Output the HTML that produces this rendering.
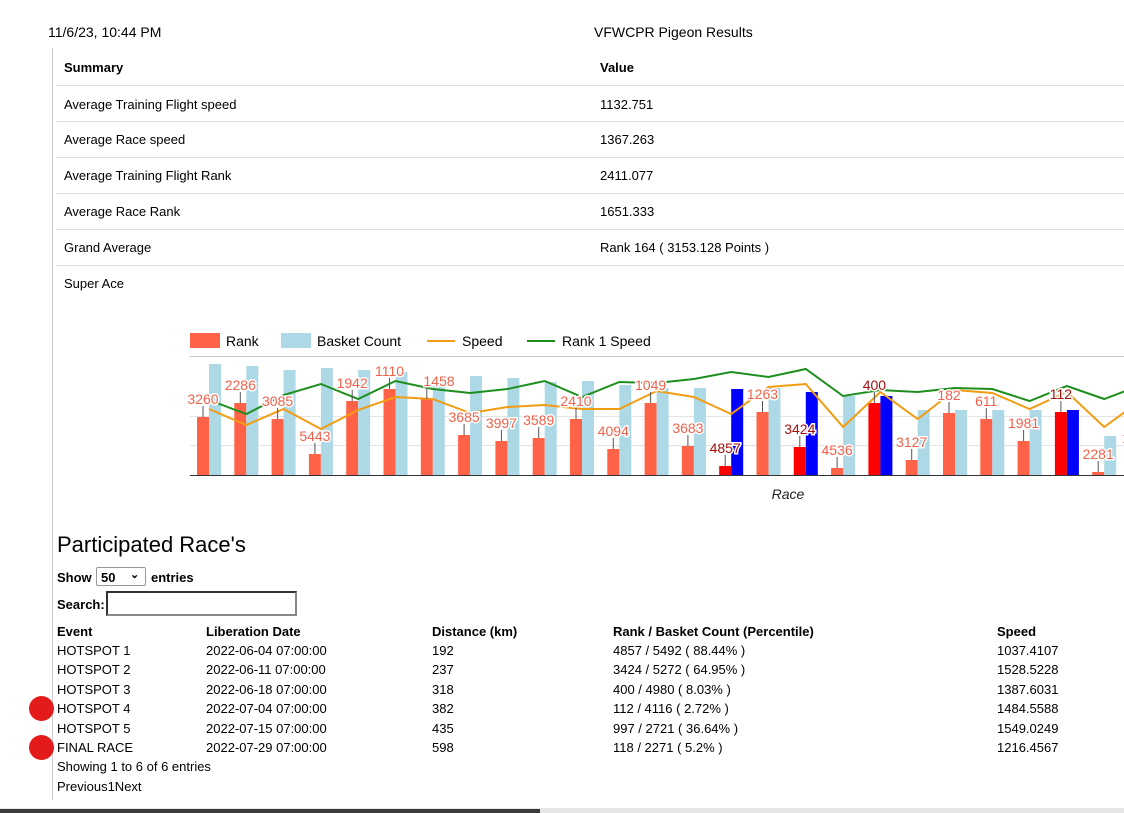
<!DOCTYPE html>
<html><head><meta charset="utf-8"><style>
*{margin:0;padding:0;box-sizing:border-box}
body{width:1124px;height:813px;background:#fff;font-family:"Liberation Sans",Arial,sans-serif;color:#000;position:relative;overflow:hidden;font-size:13px}
.a{position:absolute;white-space:nowrap}
.row{position:absolute;left:56px;width:1068px;border-bottom:1px solid #ddd}
.lbl text{font-size:14px;fill:#f0624b;stroke:#fff;stroke-width:3px;paint-order:stroke;text-anchor:middle}
.lbl text.d{fill:#a50f0f}
</style></head><body>
<div class="a" style="left:48px;top:24px;font-size:14px">11/6/23, 10:44 PM</div>
<div class="a" style="left:594px;top:24px;font-size:14px">VFWCPR Pigeon Results</div>
<div class="a" style="left:52px;top:48px;width:1px;height:752px;background:#ccc"></div>

<div class="row" style="top:50px;height:36px"></div>
<div class="a" style="left:64px;top:60px;font-weight:bold">Summary</div>
<div class="a" style="left:600px;top:60px;font-weight:bold">Value</div>
<div class="row" style="top:86px;height:36px"></div>
<div class="a" style="left:64px;top:97px">Average Training Flight speed</div><div class="a" style="left:600px;top:97px">1132.751</div>
<div class="row" style="top:122px;height:36px"></div>
<div class="a" style="left:64px;top:132px">Average Race speed</div><div class="a" style="left:600px;top:132px">1367.263</div>
<div class="row" style="top:158px;height:36px"></div>
<div class="a" style="left:64px;top:168px">Average Training Flight Rank</div><div class="a" style="left:600px;top:168px">2411.077</div>
<div class="row" style="top:194px;height:36px"></div>
<div class="a" style="left:64px;top:204px">Average Race Rank</div><div class="a" style="left:600px;top:204px">1651.333</div>
<div class="row" style="top:230px;height:36px"></div>
<div class="a" style="left:64px;top:240px">Grand Average</div><div class="a" style="left:600px;top:240px">Rank 164 ( 3153.128 Points )</div>
<div class="a" style="left:64px;top:276px">Super Ace</div>

<svg class="a" style="left:0;top:0" width="1124" height="520">
<rect x="190" y="333" width="30" height="15" fill="#ff6347"/><text x="226" y="346" font-size="14">Rank</text>
<rect x="281" y="333" width="30" height="15" fill="#add8e6"/><text x="317" y="346" font-size="14">Basket Count</text>
<line x1="427" y1="341" x2="455" y2="341" stroke="#f39c12" stroke-width="2"/><text x="462" y="346" font-size="14">Speed</text>
<line x1="527" y1="341" x2="555" y2="341" stroke="#1e8f1e" stroke-width="2"/><text x="562" y="346" font-size="14">Rank 1 Speed</text>
<g stroke="#ccc" stroke-width="1"><line x1="190" y1="356.5" x2="1124" y2="356.5"/><line x1="190" y1="416.5" x2="1124" y2="416.5" stroke="#e4e4e4"/><line x1="190" y1="445.5" x2="1124" y2="445.5" stroke="#e4e4e4"/></g>
<g>
<rect x="197" y="417" width="12" height="58" fill="#ff6347"/><rect x="209" y="364" width="12" height="111" fill="#add8e6"/>
<rect x="234.3" y="403" width="12" height="72" fill="#ff6347"/><rect x="246.3" y="366" width="12" height="109" fill="#add8e6"/>
<rect x="271.6" y="419" width="12" height="56" fill="#ff6347"/><rect x="283.6" y="370" width="12" height="105" fill="#add8e6"/>
<rect x="308.9" y="454" width="12" height="21" fill="#ff6347"/><rect x="320.9" y="368" width="12" height="107" fill="#add8e6"/>
<rect x="346.2" y="401" width="12" height="74" fill="#ff6347"/><rect x="358.2" y="370" width="12" height="105" fill="#add8e6"/>
<rect x="383.5" y="389" width="12" height="86" fill="#ff6347"/><rect x="395.5" y="372" width="12" height="103" fill="#add8e6"/>
<rect x="420.8" y="399" width="12" height="76" fill="#ff6347"/><rect x="432.8" y="377" width="12" height="98" fill="#add8e6"/>
<rect x="458.1" y="435" width="12" height="40" fill="#ff6347"/><rect x="470.1" y="376" width="12" height="99" fill="#add8e6"/>
<rect x="495.4" y="441" width="12" height="34" fill="#ff6347"/><rect x="507.4" y="378" width="12" height="97" fill="#add8e6"/>
<rect x="532.7" y="438" width="12" height="37" fill="#ff6347"/><rect x="544.7" y="382" width="12" height="93" fill="#add8e6"/>
<rect x="570" y="419" width="12" height="56" fill="#ff6347"/><rect x="582" y="381" width="12" height="94" fill="#add8e6"/>
<rect x="607.3" y="449" width="12" height="26" fill="#ff6347"/><rect x="619.3" y="385" width="12" height="90" fill="#add8e6"/>
<rect x="644.6" y="403" width="12" height="72" fill="#ff6347"/><rect x="656.6" y="388" width="12" height="87" fill="#add8e6"/>
<rect x="681.9" y="446" width="12" height="29" fill="#ff6347"/><rect x="693.9" y="388" width="12" height="87" fill="#add8e6"/>
<rect x="719.2" y="466" width="12" height="9" fill="#ff0000"/><rect x="731.2" y="389" width="12" height="86" fill="#0000ff"/>
<rect x="756.5" y="412" width="12" height="63" fill="#ff6347"/><rect x="768.5" y="388" width="12" height="87" fill="#add8e6"/>
<rect x="793.8" y="447" width="12" height="28" fill="#ff0000"/><rect x="805.8" y="392" width="12" height="83" fill="#0000ff"/>
<rect x="831.1" y="468" width="12" height="7" fill="#ff6347"/><rect x="843.1" y="396" width="12" height="79" fill="#add8e6"/>
<rect x="868.4" y="403" width="12" height="72" fill="#ff0000"/><rect x="880.4" y="396" width="12" height="79" fill="#0000ff"/>
<rect x="905.7" y="460" width="12" height="15" fill="#ff6347"/><rect x="917.7" y="410" width="12" height="65" fill="#add8e6"/>
<rect x="943" y="413" width="12" height="62" fill="#ff6347"/><rect x="955" y="410" width="12" height="65" fill="#add8e6"/>
<rect x="980.3" y="419" width="12" height="56" fill="#ff6347"/><rect x="992.3" y="410" width="12" height="65" fill="#add8e6"/>
<rect x="1017.6" y="441" width="12" height="34" fill="#ff6347"/><rect x="1029.6" y="410" width="12" height="65" fill="#add8e6"/>
<rect x="1054.9" y="412" width="12" height="63" fill="#ff0000"/><rect x="1066.9" y="410" width="12" height="65" fill="#0000ff"/>
<rect x="1092.2" y="472" width="12" height="3" fill="#ff6347"/><rect x="1104.2" y="436" width="12" height="39" fill="#add8e6"/>
</g>
<line x1="190" y1="475.5" x2="1124" y2="475.5" stroke="#333" stroke-width="1"/>
<polyline fill="none" stroke="#f39c12" stroke-width="2" points="209,409 246.3,425 283.6,409 320.9,429 358.2,410 395.5,397 432.8,399 470.1,413 507.4,407 544.7,405 582,409 619.3,409 656.6,391 693.9,397 731.2,414 768.5,387 805.8,384 843.1,427 880.4,392 917.7,419 955,390 992.3,393 1029.6,409 1066.9,392 1104.2,427 1141.5,400"/>
<polyline fill="none" stroke="#1e8f1e" stroke-width="2" points="209,400 246.3,414 283.6,395 320.9,384 358.2,399 395.5,381 432.8,389 470.1,393 507.4,389 544.7,381 582,397 619.3,382 656.6,383 693.9,379 731.2,372 768.5,377 805.8,369 843.1,396 880.4,390 917.7,392 955,388 992.3,389 1029.6,401 1066.9,386 1104.2,399 1141.5,385"/>
<g stroke="#555" stroke-width="1">
<line x1="203" y1="417" x2="203" y2="406"/><line x1="240.3" y1="403" x2="240.3" y2="392"/><line x1="277.6" y1="419" x2="277.6" y2="408"/><line x1="314.9" y1="454" x2="314.9" y2="443"/><line x1="352.2" y1="401" x2="352.2" y2="390"/><line x1="389.5" y1="389" x2="389.5" y2="378"/><line x1="426.8" y1="399" x2="426.8" y2="388"/><line x1="464.1" y1="435" x2="464.1" y2="424"/><line x1="501.4" y1="441" x2="501.4" y2="430"/><line x1="538.7" y1="438" x2="538.7" y2="427"/><line x1="576" y1="419" x2="576" y2="408"/><line x1="613.3" y1="449" x2="613.3" y2="438"/><line x1="650.6" y1="403" x2="650.6" y2="392"/><line x1="687.9" y1="446" x2="687.9" y2="435"/><line x1="725.2" y1="466" x2="725.2" y2="455"/><line x1="762.5" y1="412" x2="762.5" y2="401"/><line x1="799.8" y1="447" x2="799.8" y2="436"/><line x1="837.1" y1="468" x2="837.1" y2="457"/><line x1="874.4" y1="403" x2="874.4" y2="392"/><line x1="911.7" y1="460" x2="911.7" y2="449"/><line x1="949" y1="413" x2="949" y2="402"/><line x1="986.3" y1="419" x2="986.3" y2="408"/><line x1="1023.6" y1="441" x2="1023.6" y2="430"/><line x1="1060.9" y1="412" x2="1060.9" y2="401"/><line x1="1098.2" y1="472" x2="1098.2" y2="461"/>
</g>
<g class="lbl">
<text x="203" y="404">3260</text><text x="240.3" y="390">2286</text><text x="277.6" y="406">3085</text><text x="314.9" y="441">5443</text><text x="352.2" y="388">1942</text><text x="389.5" y="376">1110</text><text x="439" y="386">1458</text><text x="464.1" y="422">3685</text><text x="501.4" y="428">3997</text><text x="538.7" y="425">3589</text><text x="576" y="406">2410</text><text x="613.3" y="436">4094</text><text x="650.6" y="390">1049</text><text x="687.9" y="433">3683</text><text class="d" x="725.2" y="453">4857</text><text x="762.5" y="399">1263</text><text class="d" x="799.8" y="434">3424</text><text x="837.1" y="455">4536</text><text class="d" x="874.4" y="390">400</text><text x="911.7" y="447">3127</text><text x="949" y="400">182</text><text x="986.3" y="406">611</text><text x="1023.6" y="428">1981</text><text class="d" x="1060.9" y="399">112</text><text x="1098.2" y="459">2281</text><text x="1126" y="443">1</text>
</g>
<text x="788" y="499" font-size="14" font-style="italic" text-anchor="middle" fill="#222">Race</text>
</svg>

<div class="a" style="left:57px;top:532px;font-size:22px">Participated Race's</div>
<div class="a" style="left:57px;top:570px;font-weight:bold">Show</div>
<div class="a" style="left:96px;top:567px;width:50px;height:19px;border:1px solid #999;border-radius:2px;font-weight:bold;padding:2px 4px">50 <span style="position:absolute;left:33px;top:0px;font-size:11px">&#8964;</span></div>
<div class="a" style="left:151px;top:570px;font-weight:bold">entries</div>
<div class="a" style="left:57px;top:597px;font-weight:bold">Search:</div>
<div class="a" style="left:106px;top:591px;width:191px;height:25px;border:2px solid #333;border-right-color:#888;border-bottom-color:#888"></div>

<div class="a" style="left:57px;top:624px;font-weight:bold">Event</div>
<div class="a" style="left:206px;top:624px;font-weight:bold">Liberation Date</div>
<div class="a" style="left:432px;top:624px;font-weight:bold">Distance (km)</div>
<div class="a" style="left:613px;top:624px;font-weight:bold">Rank / Basket Count (Percentile)</div>
<div class="a" style="left:997px;top:624px;font-weight:bold">Speed</div>

<div class="a" style="left:57px;top:643px">HOTSPOT 1</div><div class="a" style="left:206px;top:643px">2022-06-04 07:00:00</div><div class="a" style="left:432px;top:643px">192</div><div class="a" style="left:613px;top:643px">4857 / 5492 ( 88.44% )</div><div class="a" style="left:997px;top:643px">1037.4107</div>
<div class="a" style="left:57px;top:662px">HOTSPOT 2</div><div class="a" style="left:206px;top:662px">2022-06-11 07:00:00</div><div class="a" style="left:432px;top:662px">237</div><div class="a" style="left:613px;top:662px">3424 / 5272 ( 64.95% )</div><div class="a" style="left:997px;top:662px">1528.5228</div>
<div class="a" style="left:57px;top:682px">HOTSPOT 3</div><div class="a" style="left:206px;top:682px">2022-06-18 07:00:00</div><div class="a" style="left:432px;top:682px">318</div><div class="a" style="left:613px;top:682px">400 / 4980 ( 8.03% )</div><div class="a" style="left:997px;top:682px">1387.6031</div>
<div class="a" style="left:57px;top:701px">HOTSPOT 4</div><div class="a" style="left:206px;top:701px">2022-07-04 07:00:00</div><div class="a" style="left:432px;top:701px">382</div><div class="a" style="left:613px;top:701px">112 / 4116 ( 2.72% )</div><div class="a" style="left:997px;top:701px">1484.5588</div>
<div class="a" style="left:57px;top:721px">HOTSPOT 5</div><div class="a" style="left:206px;top:721px">2022-07-15 07:00:00</div><div class="a" style="left:432px;top:721px">435</div><div class="a" style="left:613px;top:721px">997 / 2721 ( 36.64% )</div><div class="a" style="left:997px;top:721px">1549.0249</div>
<div class="a" style="left:57px;top:740px">FINAL RACE</div><div class="a" style="left:206px;top:740px">2022-07-29 07:00:00</div><div class="a" style="left:432px;top:740px">598</div><div class="a" style="left:613px;top:740px">118 / 2271 ( 5.2% )</div><div class="a" style="left:997px;top:740px">1216.4567</div>
<div class="a" style="left:57px;top:759px">Showing 1 to 6 of 6 entries</div>
<div class="a" style="left:57px;top:779px">Previous1Next</div>
<div class="a" style="left:29px;top:696px;width:25px;height:25px;border-radius:50%;background:#e41b1b"></div>
<div class="a" style="left:29px;top:735px;width:25px;height:25px;border-radius:50%;background:#e41b1b"></div>
<div class="a" style="left:0;top:808px;width:1124px;height:5px;background:#e6e6e6"></div>
<div class="a" style="left:0;top:809px;width:540px;height:4px;background:#3a3a3a"></div>
</body></html>
